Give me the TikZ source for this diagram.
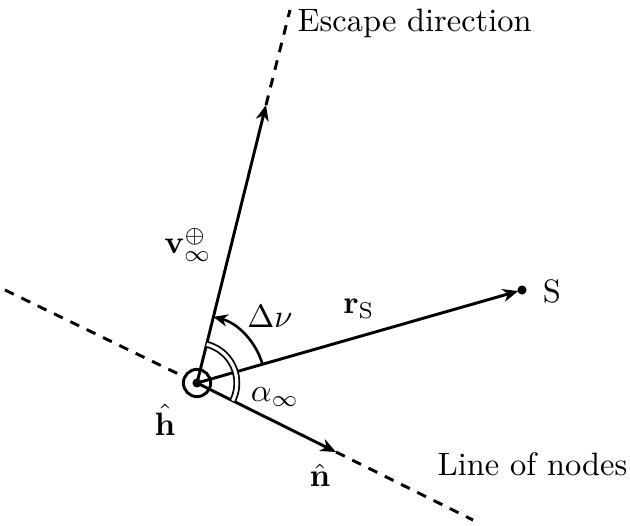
\documentclass[tikz,border=0pt]{standalone}
\usetikzlibrary{calc,arrows.meta}
\begin{document}
\begin{tikzpicture}[x=0.3085pt,y=0.3085pt,
  vec/.style={line width=0.9pt,-{Stealth[length=4.8pt,width=4pt,inset=1.5pt]}},
  ext/.style={line width=0.9pt,dash pattern=on 3pt off 2.6pt},
  lbl/.style={inner sep=0pt}]
\useasboundingbox (0,0) rectangle (630,525);
\coordinate (O) at (197,142);
\coordinate (L) at (5,235);
\coordinate (R) at (473,5);
\coordinate (N) at (336,73);
\coordinate (V) at (266,420);
\coordinate (E) at (290,515);
\coordinate (S) at (522,235);
% extensions
\draw[ext] (L) -- ($(O)!4.2pt!(L)$);
\draw[ext] (N) -- (R);
\draw[ext] (V) -- (E);
% vectors
\draw[vec] (O) -- (N);
\draw[vec] (O) -- (V);
\draw[vec,shorten >=1.2pt] (O) -- (S);
\fill (S) circle[radius=1.4pt];
% origin
\draw[line width=0.9pt] (O) circle[radius=4.2pt];
\fill (O) circle[radius=1.4pt];
% angles
\draw[line width=0.55pt,double distance=1.0pt] (O) ++(-26.4:12.3pt) arc[start angle=-26.4,end angle=76,radius=12.3pt];
\draw[line width=0.8pt,-{Stealth[length=4.4pt,width=3.8pt,inset=1.4pt]}] (O) ++(15.8:21pt) arc[start angle=15.8,end angle=76,radius=21pt];
% labels
\node[lbl,anchor=base west] (tesc) at (297,493) {Escape direction};
\node[lbl] (tv) at (188,280) {$\mathbf{v}_\infty^{\oplus}$};
\node[lbl] (tdn) at (270,209) {$\Delta\nu$};
\node[lbl] (tr) at (359,216) {$\mathbf{r}_{\mathrm{S}}$};
\node[lbl,anchor=base] (tS) at (552,223) {S};
\node[lbl] (ta) at (275,128) {$\alpha_\infty$};
\node[lbl] (th) at (165,105) {$\hat{\mathbf{h}}$};
\node[lbl] (tn) at (320,50) {$\hat{\mathbf{n}}$};
\node[lbl,anchor=base west] (tl) at (437,50) {Line of nodes};
\end{tikzpicture}
\end{document}
